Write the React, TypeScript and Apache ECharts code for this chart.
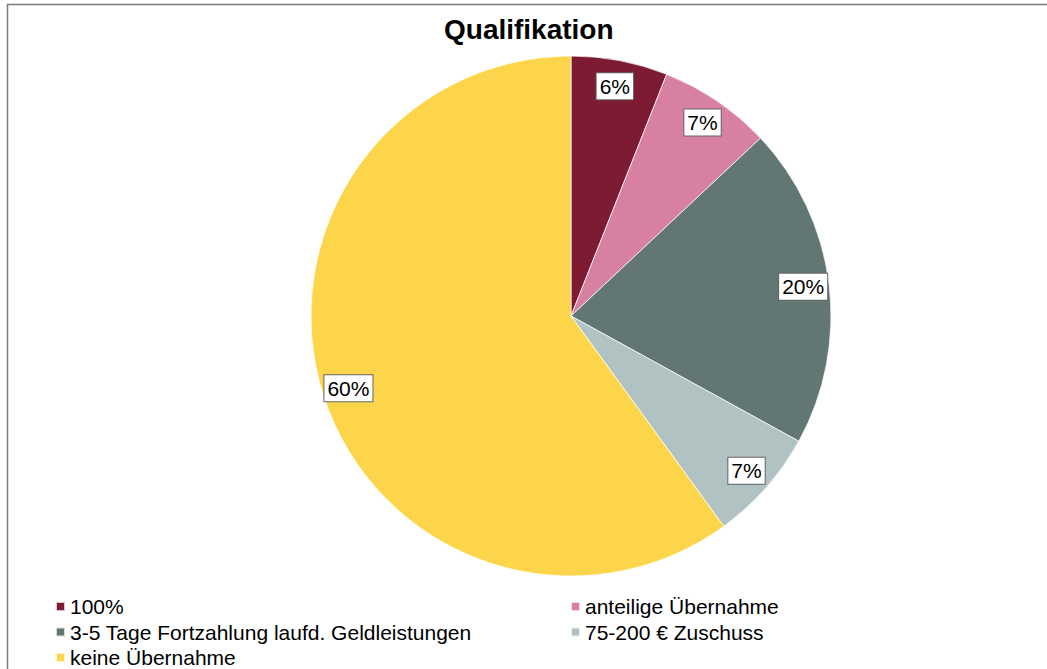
import React, { useEffect, useRef } from "react";
import * as echarts from "echarts";

const titleText = "Qualifikation";
const categories = [
  "100%",
  "anteilige Übernahme",
  "3-5 Tage Fortzahlung laufd. Geldleistungen",
  "75-200 € Zuschuss",
  "keine Übernahme",
];
const values = [6, 7, 20, 7, 60];
const colors = ["#7d1b32", "#d880a2", "#627673", "#b0c2c1", "#fdd54b"];
const legendCol1 = [categories[0], categories[2], categories[4]];
const legendCol2 = [categories[1], categories[3]];

const FONT = "'Liberation Sans', Arial, sans-serif";

export default function App() {
  const ref = useRef<HTMLDivElement>(null);
  useEffect(() => {
    if (!ref.current) return;
    const chart = echarts.init(ref.current, undefined, { renderer: "svg" });
    const data = categories.map((name, i) => ({
      name,
      value: values[i],
      itemStyle: { color: colors[i] },
    }));
    const legendCommon = {
      orient: "vertical" as const,
      icon: "rect",
      itemWidth: 9,
      itemHeight: 9,
      itemGap: 4.5,
      padding: 0,
      selectedMode: false,
      textStyle: { fontFamily: FONT, fontSize: 21, color: "#000", lineHeight: 20 },
    };
    chart.setOption({
      animation: false,
      backgroundColor: "#fff",
      title: {
        text: titleText,
        left: 444,
        top: 15,
        padding: 0,
        textStyle: { fontFamily: FONT, fontSize: 28, fontWeight: "bold", color: "#000" },
      },
      legend: [
        { ...legendCommon, left: 55, top: 596, data: legendCol1 },
        { ...legendCommon, left: 570, top: 596, data: legendCol2 },
      ],
      graphic: [
        {
          type: "rect",
          shape: { x: 7.5, y: 4.5, width: 1200, height: 800 },
          style: { fill: "none", stroke: "#7a7a7a", lineWidth: 1.5 },
          silent: true,
        },
      ],
      series: [
        {
          type: "pie",
          center: [571, 316],
          radius: [0, 260],
          startAngle: 90,
          clockwise: true,
          data,
          label: { show: false },
          labelLine: { show: false },
          itemStyle: { borderColor: "rgba(255,255,255,0.75)", borderWidth: 1 },
          emphasis: { disabled: true },
          silent: true,
        },
        {
          type: "pie",
          center: [571, 316],
          radius: [202, 260],
          startAngle: 90,
          clockwise: true,
          data: categories.map((name, i) => ({ name, value: values[i] })),
          itemStyle: { color: "rgba(0,0,0,0)" },
          emphasis: { disabled: true },
          silent: true,
          labelLine: { show: false },
          label: {
            show: true,
            position: "inside",
            formatter: (p: any) => `${p.value}%`,
            fontFamily: FONT,
            fontSize: 21,
            lineHeight: 21,
            color: "#000",
            backgroundColor: "#fff",
            borderColor: "#666",
            borderWidth: 1,
            padding: [4, 3, 1, 3],
          },
        },
      ],
    });
    return () => chart.dispose();
  }, []);
  return (
    <div
      ref={ref}
      style={{ position: "fixed", left: 0, top: 0, width: 1047, height: 669 }}
    />
  );
}
